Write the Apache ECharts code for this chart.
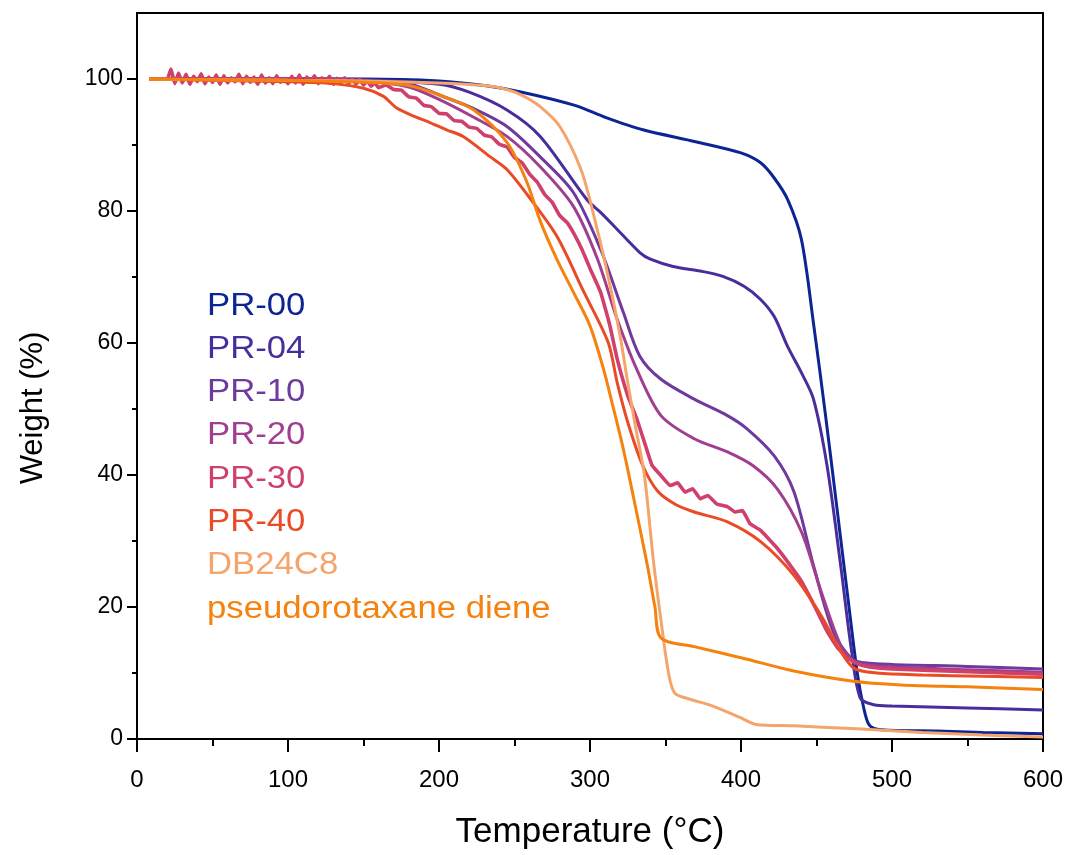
<!DOCTYPE html>
<html>
<head>
<meta charset="utf-8">
<script src="https://cdn.jsdelivr.net/npm/echarts@6/dist/echarts.min.js"></script>
<style>html,body{margin:0;padding:0;background:#fff}#c{width:1070px;height:855px}</style>
</head>
<body>
<div id="c"></div>
<script>
const seriesNames = ['PR-00','PR-04','PR-10','PR-20','PR-30','PR-40','DB24C8','pseudorotaxane diene'];
const xTicks = [0,100,200,300,400,500,600];
const yTicks = [0,20,40,60,80,100];
const yMinorTicks = [10,30,50,70,90];

const pr00T = [8,50,100,150,200,230,255,290,310,335,370,400,413,422,431,440,448,456,463,471,477,481,485,493,530,560,600];
const pr00W = [100,100,100,100,99.7,99,98,96,94.2,92.3,90.5,88.8,87.3,85,81.7,75.7,63,49,36,21,10,5,2.1,1.4,1.2,1.0,0.8];

const pr04T = [8,100,150,200,220,245,267,298,307,316,333,340,355,373,388,402,413,422,431,440,448,457,466,473,479,488,500,550,600];
const pr04W = [100,100,99.9,99.2,98,95.3,91.3,81.7,79.8,77.7,73.7,72.7,71.6,70.9,70.1,68.6,66.6,64,59.4,55.5,51.5,41.4,26.3,13.7,6.2,5.2,5.0,4.7,4.4];

const pr10T = [8,100,150,180,201,223,245,267,289,307,322,333,347,369,391,404,422,435,448,461,473,480,500,550,600];
const pr10W = [100,100,99.8,99.3,97.5,95.5,92.8,88.2,82.8,74.2,64.7,58,54.5,51.5,49,47,42.9,37.5,26.3,16.3,12.2,11.6,11.3,11,10.6];

const pr20T = [8,100,150,180,201,223,245,267,289,305,318,331,347,369,391,408,424,440,453,466,475,485,500,550,600];
const pr20W = [100,100,99.7,98.8,96.8,94.2,91.3,86.7,80.7,72.7,63.6,56,49,45.5,43.5,41.4,37.9,31.4,22.4,14.2,11.8,11.2,10.9,10.5,10.1];

const pr30T = [8,20,22.5,25,27.5,30,32.5,35,37.5,40,42.5,45,47.5,50,52.5,55,57.5,60,62.5,65,67.5,70,72.5,75,77.5,80,82.5,85,87.5,90,92.5,95,97.5,100,102.5,105,107.5,110,112.5,115,117.5,120,122.5,125,127.5,130,132.5,135,137.5,140,142.5,145,147.5,150,152.5,155,157.5,160,
  165,170,175,180,185,190,195,200,205,210,215,220,225,230,235,240,245,250,255,260,265,270,275,280,285,290,295,300,
  307,313,318,325,331,336,341,347,353,358,363,368,373,378,384,391,396,401,406,413,424,432,440,449,457,464,471,478,485,500,550,600];
const pr30W = [100,100,101.5,99.3,100.9,99.4,100.7,99.2,100.4,99.6,100.8,99.3,100.3,99.5,100.6,99.2,100.5,99.4,100.2,99.6,100.7,99.3,100.4,99.5,100.3,99.2,100.6,99.4,100.2,99.3,100.5,99.5,100.1,99.3,100.4,99.4,100.6,99.2,100.3,99.5,100.5,99.3,100.2,99.6,100.4,99.2,100.1,99.4,100.2,99.3,100.0,99.2,99.9,99.1,99.7,98.9,99.4,98.7,
  99.1,98.4,98.3,97.3,97.1,96.0,95.8,94.8,94.7,93.7,93.6,92.7,92.5,91.5,91.2,90.1,89.7,88.1,87.3,85.6,84.4,82.5,81.3,79.3,78.2,76.3,74.0,71.3,
  67.7,62.8,57.6,52,48.5,45,41.5,39.9,38.4,38.8,37.4,37.9,36.4,36.9,35.6,35.2,34.4,34.6,32.6,31.6,28.9,26.5,23.9,20,16.3,13.8,12.2,11.3,10.9,10.6,10.2,9.8];

const pr40T = [8,50,100,130,150,163,172,184,194,205,216,234,245,261,278,296,312,318,325,335,345,357,369,391,413,435,453,466,475,490,520,560,600];
const pr40W = [100,99.8,99.6,99.3,98.6,97.4,95.6,94.3,93.4,92.3,91.3,88.2,86.3,81.7,76.2,67.7,60.1,54,48,41.4,37.5,35.5,34.4,32.9,29.9,24.8,18.7,13.3,10.7,10.0,9.7,9.5,9.3];

const dbT = [8,50,100,150,200,230,245,256,267,280,294,302,312,320,325,330,336,342,347,352,356,365,380,400,410,435,480,520,560,600];
const dbW = [100,99.9,99.8,99.7,99.4,99,98.4,97.4,95.8,92.8,86.3,79.8,70.1,61,54,47.5,40,27,18,10,7,6.1,5.1,3.2,2.2,2.0,1.5,1.0,0.6,0.3];

const pdT = [8,50,100,150,180,201,223,245,258,267,278,289,300,309,314,322,329,338,343,347,369,402,435,473,506,550,600];
const pdW = [100,99.9,99.8,99.5,99,97.5,95.3,90.4,84.5,78.5,72.7,67.7,62.6,56,51.5,44,36.4,26.3,20,15.3,14,12.2,10.3,8.8,8.2,7.9,7.5];

const colors = ['#0c2494','#4a2d9c','#6e3a9e','#a03e90','#cf406c','#ea4b26','#f5a56c','#f5820f'];
const temps = [pr00T,pr04T,pr10T,pr20T,pr30T,pr40T,dbT,pdT];
const weights = [pr00W,pr04W,pr10W,pr20W,pr30W,pr40W,dbW,pdW];

const FONT = "'Liberation Sans', Arial, sans-serif";

const series = seriesNames.map((n,i)=>({
  name:n, type:'line', showSymbol:false, symbol:'none',
  smooth: i===4 ? 0.1 : 0.3,
  data: temps[i].map((t,k)=>[t, weights[i][k]]),
  lineStyle:{color:colors[i], width: i===4 ? 3.6 : 3},
  itemStyle:{color:colors[i]},
  z: 2+i, animation:false
}));

const legendTexts = seriesNames.map((n,i)=>({
  type:'text', x:207, y: 306 + i*43.3, scaleX:1.12,
  style:{text:n, fill:colors[i], font:"31px "+FONT, textVerticalAlign:'middle', textAlign:'left'}
}));

legendTexts.push({
  type:'text', x:33, y:408, rotation:Math.PI/2,
  style:{text:'Weight (%)', fill:'#000', font:"31px "+FONT, textAlign:'center', textVerticalAlign:'middle'}
});

const chart = echarts.init(document.getElementById('c'), null, {renderer:'canvas'});
chart.setOption({
  animation:false,
  backgroundColor:'#fff',
  grid:{left:137, right:27, top:13, bottom:114, show:true, borderColor:'#000', borderWidth:2, backgroundColor:'transparent'},
  xAxis:{
    type:'value', min:0, max:600, interval:100,
    name:'Temperature (°C)', nameLocation:'middle', nameGap:76,
    nameTextStyle:{fontSize:35, color:'#000', fontFamily:FONT},
    axisLine:{show:true, lineStyle:{color:'#000', width:2}},
    axisTick:{show:true, length:13, lineStyle:{color:'#000', width:2}},
    minorTick:{show:true, splitNumber:2, length:7, lineStyle:{color:'#000', width:2}},
    axisLabel:{fontSize:24, color:'#000', fontFamily:FONT, margin:29, customValues:xTicks},
    splitLine:{show:false}
  },
  yAxis:[{
    type:'value', min:0, max:110, interval:10,
    axisLine:{show:true, lineStyle:{color:'#000', width:2}},
    axisTick:{show:true, length:10, customValues:yTicks, lineStyle:{color:'#000', width:2}},
    axisLabel:{fontSize:23, color:'#000', fontFamily:FONT, margin:14, customValues:yTicks},
    splitLine:{show:false}
  },{
    type:'value', min:0, max:110, interval:10, position:'left',
    axisLine:{show:false},
    axisTick:{show:true, length:5, customValues:yMinorTicks, lineStyle:{color:'#000', width:2}},
    axisLabel:{show:false},
    splitLine:{show:false}
  }],
  graphic: legendTexts,
  series: series
});
</script>
</body>
</html>
